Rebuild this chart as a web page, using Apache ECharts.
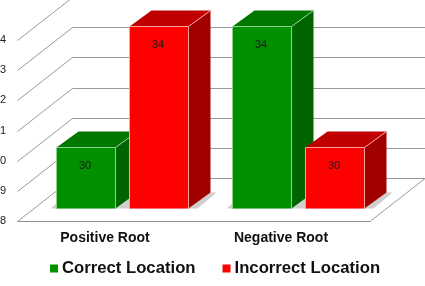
<!DOCTYPE html>
<html>
<head>
<meta charset="utf-8">
<style>html,body{margin:0;padding:0;background:#fff}#c{width:425px;height:286px}</style>
<script src="https://cdn.jsdelivr.net/npm/echarts@6/dist/echarts.min.js"></script>
</head>
<body>
<div id="c"></div>
<script>
const categories = ['Positive Root', 'Negative Root'];
const correctLocation = [30, 34];
const incorrectLocation = [34, 30];
const valueTicks = [28, 29, 30, 31, 32, 33, 34];

const chart = echarts.init(document.getElementById('c'), null, { renderer: 'canvas' });

// Oblique projection of the depth axis
const WALL_DX = 55, WALL_DY = -43;
const BAR_DX = 22, BAR_DY = -16;
// Bar layout as fractions of one category band
const BAR_SHARE = 59 / 176;
const GROUP_START = 66 / 176;
const BAR_STEP = 73 / 176;
const RIGHT_EDGE = 425;
const FLOOR_RIGHT = 370;

function line(x1, y1, x2, y2, stroke) {
  return { type: 'line', shape: { x1, y1, x2, y2 }, style: { stroke, lineWidth: 1, fill: null }, silent: true };
}
function poly(points, fill) {
  return { type: 'polygon', shape: { points }, style: { fill }, silent: true };
}

// Back wall and floor, one gridline per tick
function renderWall(params, api) {
  const v = api.value(0);
  const p = api.coord([0, v]);
  const x = Math.round(p[0]) + 0.5, y = Math.round(p[1]) + 0.5;
  const bx = x + WALL_DX, by = y + WALL_DY;
  const children = [];
  if (v === valueTicks[0]) {
    children.push(poly([[x, y], [FLOOR_RIGHT, y], [FLOOR_RIGHT + WALL_DX, by], [bx, by]], '#ffffff'));
    children.push(line(x, y, FLOOR_RIGHT, y, '#8c8c8c'));
    children.push(line(FLOOR_RIGHT, y, FLOOR_RIGHT + WALL_DX, by, '#9a9a9a'));
  }
  children.push(line(x, y, bx, by, '#9a9a9a'));
  children.push(line(bx, by, RIGHT_EDGE, by, '#9a9a9a'));
  return { type: 'group', children };
}

// One oblique bar: soft floor shadow, side, top, front, then highlight edges
function barRenderer(offsetIndex, pal) {
  return function (params, api) {
    const c = api.value(0), v = api.value(1);
    const band = api.size([1, 0])[0];
    const w = band * BAR_SHARE;
    const top = api.coord([c, v]);
    const base = api.coord([c, valueTicks[0]]);
    const x0 = Math.round(top[0] - band * GROUP_START + offsetIndex * band * BAR_STEP) + 0.5;
    const x1 = x0 + Math.round(w);
    const yt = Math.round(top[1]) + 0.5, yb = Math.round(base[1]) + 0.5;
    const sx = x1 + BAR_DX, sy = BAR_DY;
    return {
      type: 'group',
      children: [
        poly([[x0 - 6, yb], [x0, yb - 5], [x1, yb]], '#cfcfcf'),
        poly([[x1, yb], [sx, yb + sy], [sx + 6, yb + sy], [x1 + 9, yb]], '#cfcfcf'),
        poly([[x1, yt], [sx, yt + sy], [sx, yb + sy], [x1, yb]], pal.side),
        poly([[x0, yt], [x0 + BAR_DX, yt + sy], [sx, yt + sy], [x1, yt]], pal.top),
        poly([[x0, yt], [x1, yt], [x1, yb], [x0, yb]], pal.front),
        line(x0, yt, x1, yt, pal.edge),
        line(x0, yt, x0, yb, pal.edge),
        line(x1, yt, x1, yb, pal.edge),
        line(x1, yt, sx, yt + sy, pal.edge),
        {
          type: 'text',
          x: (x0 + x1) / 2 - 1, y: yt + 18,
          style: { text: String(v), fill: '#1c1c1c', font: '11px "Liberation Sans"', align: 'center', verticalAlign: 'middle' },
          silent: true
        }
      ]
    };
  };
}

const greenPal = { front: '#009000', side: '#006400', top: '#007800', edge: '#8fd08f' };
const redPal = { front: '#ff0000', side: '#a00000', top: '#c00000', edge: '#ffa0a0' };

chart.setOption({
  animation: false,
  backgroundColor: '#ffffff',
  grid: [
    { left: 17, top: 40, width: 353, height: 181, outerBoundsMode: 'none' },
    { left: 34, top: 26, width: 352, height: 182, outerBoundsMode: 'none' }
  ],
  xAxis: [
    { gridIndex: 0, type: 'value', min: 0, max: 1, show: false },
    {
      gridIndex: 1, type: 'category', data: categories,
      axisLine: { show: false }, axisTick: { show: false }, splitLine: { show: false },
      axisLabel: { margin: 23, padding: [0, 34, 0, 0], color: '#111', fontFamily: 'Liberation Sans', fontWeight: 'bold', fontSize: 14 }
    }
  ],
  yAxis: [
    {
      gridIndex: 0, type: 'value', min: valueTicks[0], max: valueTicks[valueTicks.length - 1], interval: 1,
      axisLine: { show: false }, axisTick: { show: false }, splitLine: { show: false },
      axisLabel: { margin: 11, color: '#222', fontFamily: 'Liberation Sans', fontSize: 11 }
    },
    {
      gridIndex: 1, type: 'value', min: valueTicks[0], max: valueTicks[valueTicks.length - 1], interval: 1,
      show: false
    }
  ],
  legend: {
    data: ['Correct Location', 'Incorrect Location'],
    left: 45, top: 255, itemWidth: 8, itemHeight: 8, itemGap: 27, icon: 'rect',
    textStyle: { color: '#111', fontFamily: 'Liberation Sans', fontWeight: 'bold', fontSize: 16.7, padding: [0, 0, 0, -1] }
  },
  series: [
    {
      type: 'custom', name: 'wall', xAxisIndex: 0, yAxisIndex: 0, clip: false, z: 1,
      data: valueTicks.map(v => [v]), encode: { y: 0 }, renderItem: renderWall, silent: true
    },
    {
      type: 'custom', name: 'Correct Location', xAxisIndex: 1, yAxisIndex: 1, clip: false, z: 2,
      itemStyle: { color: '#009000' }, encode: { x: 0, y: 1 },
      data: correctLocation.map((v, i) => [i, v]), renderItem: barRenderer(0, greenPal)
    },
    {
      type: 'custom', name: 'Incorrect Location', xAxisIndex: 1, yAxisIndex: 1, clip: false, z: 3,
      itemStyle: { color: '#ff0000' }, encode: { x: 0, y: 1 },
      data: incorrectLocation.map((v, i) => [i, v]), renderItem: barRenderer(1, redPal)
    }
  ]
});
</script>
</body>
</html>
